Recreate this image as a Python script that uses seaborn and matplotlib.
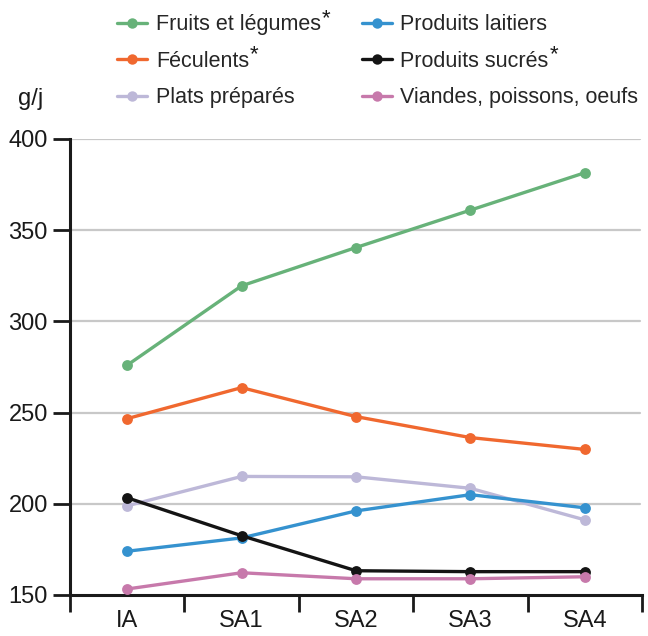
import matplotlib
matplotlib.use("Agg")
import matplotlib.pyplot as plt
import seaborn as sns
import pandas as pd
from matplotlib.lines import Line2D
from matplotlib.ticker import FixedLocator, NullFormatter

categories = ["IA", "SA1", "SA2", "SA3", "SA4"]
fruits_legumes = [276, 319.5, 340.5, 361, 381.5]
feculents = [246.7, 263.7, 247.8, 236.3, 229.8]
plats_prepares = [198.9, 215, 214.8, 208.5, 191.2]
produits_laitiers = [174, 181.3, 196.1, 205, 197.8]
produits_sucres = [203.3, 182.5, 163.3, 162.8, 162.8]
viandes = [153.3, 162.2, 158.9, 158.9, 160]

series_names = ["Fruits et légumes", "Féculents", "Plats préparés",
                "Produits laitiers", "Produits sucrés", "Viandes, poissons, oeufs"]
starred = [True, True, False, False, True, False]
series_values = [fruits_legumes, feculents, plats_prepares,
                 produits_laitiers, produits_sucres, viandes]
colors = ["#67b279", "#f0682f", "#bdb8d8", "#3592cf", "#141414", "#c779ab"]
y_ticks = [150, 200, 250, 300, 350, 400]

rows = []
for name, vals in zip(series_names, series_values):
    for c, v in zip(categories, vals):
        rows.append({"cat": c, "val": v, "serie": name})
df = pd.DataFrame(rows)

sns.set_theme(style="white")
plt.rcParams["font.family"] = ["Liberation Sans", "DejaVu Sans"]

fig = plt.figure(figsize=(6.48, 6.36), dpi=100)
ax = fig.add_axes([70 / 648, 1 - 595 / 636, (642 - 70) / 648, (595 - 139) / 636])

palette = dict(zip(series_names, colors))
sns.lineplot(data=df, x="cat", y="val", hue="serie", palette=palette,
             marker="o", markersize=7.8, markeredgewidth=0, linewidth=2.4,
             sort=False, ax=ax, legend=False, zorder=3)

ax.set_ylim(150, 400)
ax.set_xlim(-0.5, 4.5)
ax.set_yticks(y_ticks)
ax.set_yticklabels([str(t) for t in y_ticks], fontsize=17)
for t in y_ticks[1:]:
    ax.axhline(t, xmin=0, xmax=(640 - 70) / (642 - 70), color="#c8c8c8", lw=1.6, zorder=1)

ax.xaxis.set_major_locator(FixedLocator([-0.5, 0.5, 1.5, 2.5, 3.5, 4.5]))
ax.xaxis.set_major_formatter(NullFormatter())
ax.set_xticks(list(range(len(categories))), minor=True)
ax.set_xticklabels(categories, minor=True, fontsize=17)
ax.tick_params(axis="x", which="major", direction="out", length=12, width=2.0,
               color="#1a1a1a", bottom=True)
ax.tick_params(axis="x", which="minor", length=0, pad=11, colors="#1a1a1a", bottom=True)
ax.tick_params(axis="y", direction="out", length=12, width=2.0, color="#1a1a1a",
               pad=4, left=True, labelcolor="#1a1a1a")
ax.set_xlabel("")
ax.set_ylabel("")
for s in ["top", "right"]:
    ax.spines[s].set_visible(False)
for s in ["left", "bottom"]:
    ax.spines[s].set_color("#1a1a1a")
    ax.spines[s].set_linewidth(2.2)

handles = [Line2D([0], [0], color=c, lw=2.4, marker="o", markersize=7.5,
                  markeredgewidth=0) for c in colors]
leg = fig.legend(handles, series_names, ncol=2, loc="upper left",
                 bbox_to_anchor=(102 / 648, 1 + 1 / 636), frameon=False,
                 fontsize=15.5, handlelength=1.4, handletextpad=0.4,
                 columnspacing=1.9, labelspacing=0.72, borderpad=0.2)

fig.canvas.draw()
renderer = fig.canvas.get_renderer()
inv = fig.transFigure.inverted()
for txt, st in zip(leg.get_texts(), starred):
    if st:
        bb = txt.get_window_extent(renderer)
        x0, y0 = inv.transform((bb.x1 + 1, bb.y1 + 6))
        fig.text(x0, y0, "*", fontsize=16, ha="left", va="top", color="#1a1a1a")

fig.text(18 / 648, 1 - 105 / 636, "g/j", fontsize=17, va="baseline",
         ha="left", color="#1a1a1a")

fig.savefig("out.png", dpi=100)
